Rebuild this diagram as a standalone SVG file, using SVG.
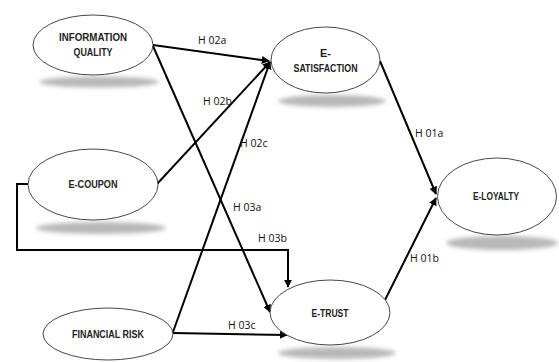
<svg xmlns="http://www.w3.org/2000/svg" width="559" height="362" viewBox="0 0 559 362">
<defs>
<style>
.node ellipse.e{fill:#fff;stroke:#333;stroke-width:0.9}
.shadow{fill:#b8b8b8}
.lbl{font-family:"Liberation Sans",Arial,sans-serif;font-weight:bold;font-size:11px;fill:#222;text-anchor:middle}
.hl{font-family:"Open Sans","Liberation Sans",sans-serif;font-size:10.5px;fill:#111}
.c{fill:none;stroke:#000;stroke-width:2}
</style>
<filter id="blur" x="-20%" y="-100%" width="140%" height="300%"><feGaussianBlur stdDeviation="2"/></filter>
<marker id="ah" viewBox="0 0 10 10" refX="9" refY="5" markerWidth="4" markerHeight="4" markerUnits="strokeWidth" orient="auto"><path d="M0,0 L10,5 L0,10 z" fill="#000"/></marker>
</defs>
<rect width="559" height="362" fill="#fff"/>
<g id="shadows">
<ellipse class="shadow" cx="99" cy="82" rx="60" ry="5.5" filter="url(#blur)"/>
<ellipse class="shadow" cx="332" cy="101" rx="54" ry="6" filter="url(#blur)"/>
<ellipse class="shadow" cx="101" cy="228" rx="65" ry="6" filter="url(#blur)"/>
<ellipse class="shadow" cx="337" cy="353" rx="59" ry="6" filter="url(#blur)"/>
<ellipse class="shadow" cx="502" cy="243" rx="56" ry="7" filter="url(#blur)"/>
</g>
<g id="connectors">
<line class="c" x1="153" y1="45" x2="269" y2="61" marker-end="url(#ah)"/>
<line class="c" x1="153" y1="46" x2="270" y2="312" marker-end="url(#ah)"/>
<line class="c" x1="157" y1="184" x2="270" y2="62" marker-end="url(#ah)"/>
<line class="c" x1="173" y1="332" x2="270" y2="62" marker-end="url(#ah)"/>
<line class="c" x1="173" y1="333" x2="287" y2="335" marker-end="url(#ah)"/>
<polyline class="c" points="28,184 17,184 17,250 288,250 288,287" marker-end="url(#ah)"/>
<line class="c" x1="380" y1="61" x2="436" y2="194" marker-end="url(#ah)"/>
<line class="c" x1="385" y1="300" x2="436" y2="198" marker-end="url(#ah)"/>
</g>
<g id="labels">
<text class="hl" x="198" y="44">H 02a</text>
<text class="hl" x="203" y="105">H 02b</text>
<text class="hl" x="240" y="147">H 02c</text>
<text class="hl" x="233" y="211">H 03a</text>
<text class="hl" x="258" y="242">H 03b</text>
<text class="hl" x="228" y="329">H 03c</text>
<text class="hl" x="415" y="137">H 01a</text>
<text class="hl" x="410" y="262">H 01b</text>
</g>
<g id="n-information-quality" class="node">
<ellipse class="e" cx="93" cy="45" rx="60" ry="30"/>
<text class="lbl" x="93" y="41" textLength="68" lengthAdjust="spacingAndGlyphs">INFORMATION</text>
<text class="lbl" x="93" y="56" textLength="39" lengthAdjust="spacingAndGlyphs">QUALITY</text>
</g>
<g id="n-e-satisfaction" class="node">
<ellipse class="e" cx="325.5" cy="60" rx="54.5" ry="33"/>
<text class="lbl" x="325.5" y="57">E-</text>
<text class="lbl" x="325.5" y="72" textLength="64" lengthAdjust="spacingAndGlyphs">SATISFACTION</text>
</g>
<g id="n-e-coupon" class="node">
<ellipse class="e" cx="93" cy="184.5" rx="65" ry="35.5"/>
<text class="lbl" x="93" y="188" textLength="49" lengthAdjust="spacingAndGlyphs">E-COUPON</text>
</g>
<g id="n-financial-risk" class="node">
<ellipse class="e" cx="108" cy="334" rx="65" ry="26"/>
<text class="lbl" x="108" y="338" textLength="72" lengthAdjust="spacingAndGlyphs">FINANCIAL RISK</text>
</g>
<g id="n-e-trust" class="node">
<ellipse class="e" cx="330" cy="312.5" rx="60" ry="32.5"/>
<text class="lbl" x="330" y="317" textLength="37" lengthAdjust="spacingAndGlyphs">E-TRUST</text>
</g>
<g id="n-e-loyalty" class="node">
<ellipse class="e" cx="497" cy="196.5" rx="59.5" ry="38.5"/>
<text class="lbl" x="496" y="200" textLength="46" lengthAdjust="spacingAndGlyphs">E-LOYALTY</text>
</g>
</svg>
